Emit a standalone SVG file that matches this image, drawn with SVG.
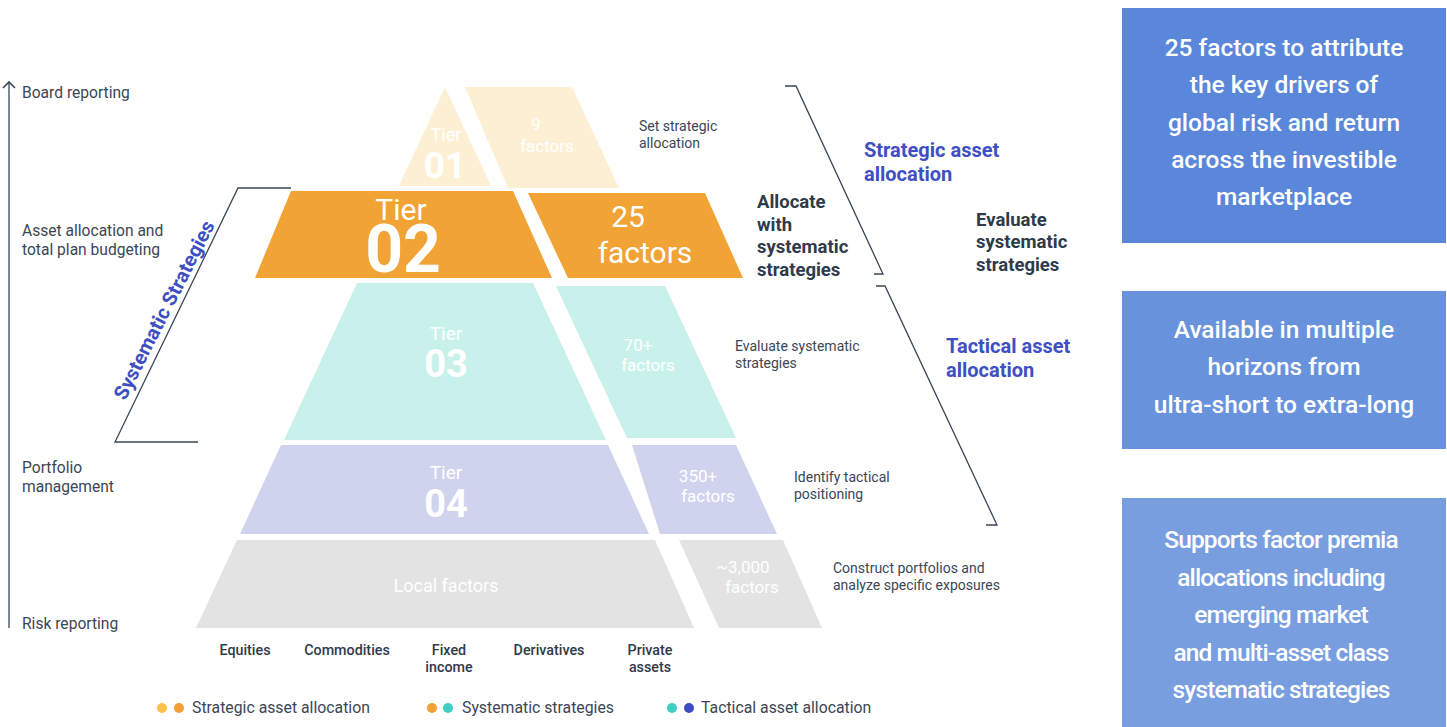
<svg xmlns="http://www.w3.org/2000/svg" width="1447" height="727" viewBox="0 0 1447 727">
<defs>
<marker id="chev" viewBox="0 0 14 14" refX="12" refY="7" markerWidth="14" markerHeight="14" markerUnits="userSpaceOnUse" orient="auto">
<path d="M6,1 L12,7 L6,13" fill="none" stroke="#3a4556" stroke-width="1.6"/>
</marker>
<style>
text{font-family:Roboto,"Liberation Sans",Arial,sans-serif}
.lbl{font-size:15.6px;fill:#3b4656}
.sm{font-size:14px;fill:#3b4656}
.bd{font-size:18.5px;font-weight:700;fill:#2f3a4a}
.bl{font-size:20px;font-weight:700;fill:#3e4fc4}
.w{fill:#ffffff;text-anchor:middle}
.cat{font-size:14.3px;font-weight:500;fill:#2f3a4a;text-anchor:middle}
.box{font-size:24.5px;font-weight:500;fill:#ffffff;text-anchor:middle}
.leg{font-size:15.8px;fill:#3b4656}
.ln{fill:none;stroke:#3a4556;stroke-width:1.3}
</style>
</defs>
<rect width="1447" height="727" fill="#ffffff"/>

<g id="connectors">
<line class="ln" x1="9" y1="628" x2="9" y2="82" marker-end="url(#chev)"/>
<path class="ln" d="M291,188 L238,188 L115,442 L198,442"/>
<path class="ln" d="M785,86 L796,86 L883,274 L874,274"/>
<path class="ln" d="M876,286 L885,286 L997,525 L986,525"/>
</g>

<g id="axis-labels">
<text class="lbl" x="22" y="98">Board reporting</text>
<text class="lbl" x="22" y="236">Asset allocation and</text>
<text class="lbl" x="22" y="255">total plan budgeting</text>
<text class="lbl" x="22" y="473">Portfolio</text>
<text class="lbl" x="22" y="492">management</text>
<text class="lbl" x="22" y="629">Risk reporting</text>
</g>

<g id="systematic-label">
<text x="164" y="317" transform="rotate(-63 164 310)" text-anchor="middle" style="font-size:20px;font-weight:700;fill:#3e4fc4">Systematic Strategies</text>
</g>

<g id="tier01">
<polygon points="445,87 491,186 399,186" fill="#fdefd3"/>
<polygon points="465,87 572,87 619,188 508,188" fill="#fdefd3"/>
<text class="w" x="446" y="141" style="font-size:18px">Tier</text>
<text class="w" x="445" y="178" style="font-size:37px;font-weight:700">01</text>
<text class="w" x="536" y="130" style="font-size:17px">9</text>
<text class="w" x="547" y="152" style="font-size:17px">factors</text>
<text class="sm" x="639" y="131">Set strategic</text>
<text class="sm" x="639" y="148">allocation</text>
</g>

<g id="tier02">
<polygon points="291,191 513,191 552,278 255,278" fill="#f2a336"/>
<polygon points="528,193 705,193 743,278 568,278" fill="#f2a336"/>
<text class="w" x="401" y="220" style="font-size:30px">Tier</text>
<text class="w" x="403" y="272" style="font-size:66px;font-weight:700">02</text>
<text class="w" x="628" y="227" style="font-size:30px">25</text>
<text class="w" x="645" y="263" style="font-size:30px">factors</text>
<text class="bd" x="757" y="208">Allocate</text>
<text class="bd" x="757" y="231">with</text>
<text class="bd" x="757" y="253">systematic</text>
<text class="bd" x="757" y="276">strategies</text>
</g>

<g id="strategic-label">
<text class="bl" x="864" y="157">Strategic asset</text>
<text class="bl" x="864" y="181">allocation</text>
</g>
<g id="evaluate-label">
<text class="bd" x="976" y="226">Evaluate</text>
<text class="bd" x="976" y="248">systematic</text>
<text class="bd" x="976" y="271">strategies</text>
</g>

<g id="tier03">
<polygon points="357,283 533,283 606,440 284,440" fill="#c9f1ec"/>
<polygon points="556,286 665,286 736,438 627,438" fill="#c9f1ec"/>
<text class="w" x="446" y="340" style="font-size:19px">Tier</text>
<text class="w" x="446" y="377" style="font-size:38px;font-weight:700">03</text>
<text class="w" x="638" y="351" style="font-size:17px">70+</text>
<text class="w" x="648" y="371" style="font-size:17px">factors</text>
<text class="sm" x="735" y="351">Evaluate systematic</text>
<text class="sm" x="735" y="368">strategies</text>
</g>

<g id="tactical-label">
<text class="bl" x="946" y="353">Tactical asset</text>
<text class="bl" x="946" y="377">allocation</text>
</g>

<g id="tier04">
<polygon points="281,445 608,445 649,534 240,534" fill="#cfd3ed"/>
<polygon points="632,445 736,445 777,534 660,534" fill="#cfd3ed"/>
<text class="w" x="446" y="479" style="font-size:19px">Tier</text>
<text class="w" x="446" y="517" style="font-size:38px;font-weight:700">04</text>
<text class="w" x="698" y="482" style="font-size:17px">350+</text>
<text class="w" x="708" y="502" style="font-size:17px">factors</text>
<text class="sm" x="794" y="482">Identify tactical</text>
<text class="sm" x="794" y="499">positioning</text>
</g>

<g id="tier05">
<polygon points="237,540 655,540 694,628 196,628" fill="#e3e3e3"/>
<polygon points="679,540 783,540 822,628 719,628" fill="#e3e3e3"/>
<text class="w" x="446" y="592" style="font-size:18px">Local factors</text>
<text class="w" x="743" y="573" style="font-size:17px">~3,000</text>
<text class="w" x="752" y="593" style="font-size:17px">factors</text>
<text class="sm" x="833" y="573">Construct portfolios and</text>
<text class="sm" x="833" y="590">analyze specific exposures</text>
</g>

<g id="categories">
<text class="cat" x="245" y="655">Equities</text>
<text class="cat" x="347" y="655">Commodities</text>
<text class="cat" x="449" y="655">Fixed</text>
<text class="cat" x="449" y="672">income</text>
<text class="cat" x="549" y="655">Derivatives</text>
<text class="cat" x="650" y="655">Private</text>
<text class="cat" x="650" y="672">assets</text>
</g>

<g id="legend">
<circle cx="162" cy="708" r="5" fill="#fcc24a"/>
<circle cx="179" cy="708" r="5" fill="#f0a035"/>
<text class="leg" x="192" y="713">Strategic asset allocation</text>
<circle cx="432" cy="708" r="5" fill="#f0a035"/>
<circle cx="448" cy="708" r="5" fill="#3ecfc2"/>
<text class="leg" x="462" y="713">Systematic strategies</text>
<circle cx="672" cy="708" r="5" fill="#3ecfc2"/>
<circle cx="689" cy="708" r="5" fill="#3d4cc2"/>
<text class="leg" x="701" y="713">Tactical asset allocation</text>
</g>

<g id="box1">
<rect x="1122" y="8" width="324" height="235" fill="#5a87d9"/>
<text class="box" x="1284" y="56">25 factors to attribute</text>
<text class="box" x="1284" y="93">the key drivers of</text>
<text class="box" x="1284" y="131">global risk and return</text>
<text class="box" x="1284" y="168">across the investible</text>
<text class="box" x="1284" y="205">marketplace</text>
</g>

<g id="box2">
<rect x="1122" y="291" width="324" height="158" fill="#6893dc"/>
<text class="box" x="1284" y="338">Available in multiple</text>
<text class="box" x="1284" y="375">horizons from</text>
<text class="box" x="1284" y="413">ultra-short to extra-long</text>
</g>

<g id="box3">
<rect x="1122" y="498" width="324" height="229" fill="#789ee0"/>
<text class="box" x="1281" y="548" letter-spacing="-0.9">Supports factor premia</text>
<text class="box" x="1281" y="586" letter-spacing="-0.9">allocations including</text>
<text class="box" x="1281" y="623" letter-spacing="-0.9">emerging market</text>
<text class="box" x="1281" y="661" letter-spacing="-0.9">and multi-asset class</text>
<text class="box" x="1281" y="698" letter-spacing="-0.9">systematic strategies</text>
</g>
</svg>
